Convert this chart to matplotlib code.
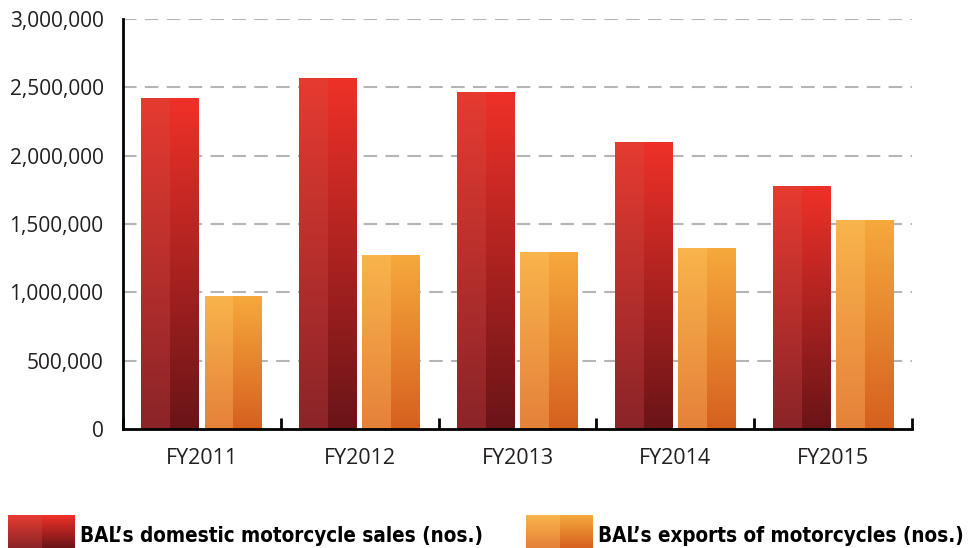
import numpy as np
import matplotlib
matplotlib.use("Agg")
import matplotlib.pyplot as plt
from matplotlib.colors import LinearSegmentedColormap
from matplotlib.ticker import FuncFormatter, FixedLocator

years = ["FY2011", "FY2012", "FY2013", "FY2014", "FY2015"]
domestic = [2420000, 2568000, 2465000, 2100000, 1778000]
exports = [973000, 1273000, 1295000, 1324000, 1522000]
series_labels = ["BAL\u2019s domestic motorcycle sales (nos.)",
                 "BAL\u2019s exports of motorcycles (nos.)"]

# gradient colours (top, bottom) for left and right halves
dom_grad = (("#e63b31", "#8a2428"), ("#ef3128", "#6a1418"))
exp_grad = (("#f9b44c", "#e5813a"), ("#f6a93c", "#d6601f"))

plt.rcParams['font.family'] = ['Open Sans', 'DejaVu Sans']

W, H = 969, 548
fig = plt.figure(figsize=(W / 100, H / 100), dpi=100)
fig.patch.set_facecolor("white")

ax = fig.add_axes([123 / W, 1 - 429 / H, (912 - 123) / W, (429 - 19) / H])
ax.set_xlim(-0.5, len(years) - 0.5)
ax.set_ylim(0, 3000000)

x = np.arange(len(years))
bw = 0.367
off = 0.2


def grad_img(ax_, x0, x1, y0, y1, top, bottom, z=2):
    cmap = LinearSegmentedColormap.from_list("g", [bottom, top])
    img = np.linspace(0, 1, 256).reshape(-1, 1)
    ax_.imshow(img, extent=(x0, x1, y0, y1), origin="lower", cmap=cmap,
               aspect="auto", zorder=z, interpolation="bicubic")


def draw_bars(xs, vals, grad):
    bars = ax.bar(xs, vals, width=bw, color="none", edgecolor="none", zorder=2)
    for b in bars:
        x0 = b.get_x()
        w = b.get_width()
        h = b.get_height()
        xm = x0 + w / 2
        grad_img(ax, x0, xm, 0, h, grad[0][0], grad[0][1])
        grad_img(ax, xm, x0 + w, 0, h, grad[1][0], grad[1][1])


draw_bars(x - off, domestic, dom_grad)
draw_bars(x + off, exports, exp_grad)
ax.set_xlim(-0.5, len(years) - 0.5)
ax.set_ylim(0, 3000000)
ax.set_aspect("auto")

# grid
yt = [0, 500000, 1000000, 1500000, 2000000, 2500000, 3000000]
ax.yaxis.set_major_locator(FixedLocator(yt))
ax.yaxis.set_major_formatter(FuncFormatter(lambda v, p: f"{int(v):,}"))
for v in yt[1:]:
    ax.axhline(v, color="#b5b5b5", lw=1.5, ls=(0, (6.5, 4)), zorder=1)

ax.set_xticks(x)
ax.set_xticklabels(years)
ax.set_xticks(np.arange(-0.5, len(years)), minor=True)
ax.tick_params(axis="x", which="major", length=0, pad=14, labelsize=15.5,
               labelcolor="#231f20")
ax.tick_params(axis="x", which="minor", direction="in", length=8, width=2,
               color="black")
ax.tick_params(axis="y", length=0, pad=14, labelsize=15, labelcolor="#231f20")

for s in ["top", "right"]:
    ax.spines[s].set_visible(False)
ax.spines["left"].set_linewidth(2)
ax.spines["bottom"].set_linewidth(2)
ax.spines["left"].set_zorder(5)
ax.spines["bottom"].set_zorder(5)

# legend (figure-pixel overlay axes)
lax = fig.add_axes([0, 0, 1, 1], zorder=10)
lax.set_xlim(0, W)
lax.set_ylim(H, 0)
lax.axis("off")
lax.patch.set_alpha(0)
leg_items = [(8, dom_grad, series_labels[0]), (526, exp_grad, series_labels[1])]
for lx, grad, lab in leg_items:
    top_y, bot_y = 515, 548
    cm0 = LinearSegmentedColormap.from_list("g", [grad[0][0], grad[0][1]])
    cm1 = LinearSegmentedColormap.from_list("g", [grad[1][0], grad[1][1]])
    img = np.linspace(0, 1, 256).reshape(-1, 1)
    lax.imshow(img, extent=(lx, lx + 34, bot_y, top_y), origin="upper",
               cmap=cm0, aspect="auto", interpolation="bicubic")
    lax.imshow(img, extent=(lx + 34, lx + 67, bot_y, top_y), origin="upper",
               cmap=cm1, aspect="auto", interpolation="bicubic")
    lax.text(lx + 72, 536, lab, fontsize=14.8, fontweight="bold",
             family=["DejaVu Sans"], fontstretch="condensed",
             color="black", va="center", ha="left")
lax.set_xlim(0, W)
lax.set_ylim(H, 0)

fig.savefig("out.png", dpi=100)
